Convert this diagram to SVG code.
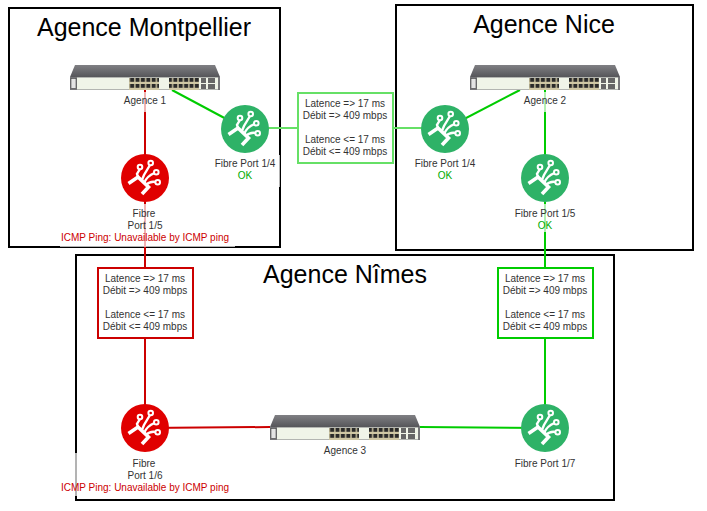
<svg xmlns="http://www.w3.org/2000/svg" width="707" height="511" viewBox="0 0 707 511">
<style>
.area{fill:none;stroke:#000;stroke-width:2}
.title{font-family:"Liberation Sans",Arial,sans-serif;font-size:25px;fill:#000;text-anchor:middle}
.lbl{font-family:"Liberation Sans",Arial,sans-serif;font-size:10px;fill:#333;text-anchor:middle}
.ok{fill:#00aa00}.err{fill:#cc0000}
.bg{fill:#fff;fill-opacity:.7}
.g{stroke:#00cc00;stroke-width:2;fill:none}
.r{stroke:#cc0000;stroke-width:2;fill:none}
.box{fill:#fff;stroke-width:2}
.boxg{stroke:#00cc00}.boxr{stroke:#cc0000}.boxp{stroke:#66e066}
.gp{stroke:#66e066;stroke-width:2;fill:none}
</style>
<defs>
<linearGradient id="top" x1="0" y1="0" x2="0" y2="1"><stop offset="0" stop-color="#808084"/><stop offset="1" stop-color="#56565a"/></linearGradient>
<pattern id="ports" x="0" y="0" width="5.4" height="6" patternUnits="userSpaceOnUse"><rect width="5.4" height="6" fill="#cfc7a4"/><rect x=".7" y="1" width="4" height="3.8" fill="#2a2a2a"/></pattern>
<g id="sw">
<polygon points="0,12 5,0 145,0 150,12" fill="url(#top)"/>
<rect x="0" y="12" width="150" height="13" fill="#77777a"/>
<rect x="7" y="12.500" width="141" height="12" fill="#f0f4e8"/>
<rect x="1" y="13.500" width="5" height="10" fill="#e4e4e4" stroke="#444" stroke-width=".6"/>
<rect x="59" y="13" width="30" height="12" fill="url(#ports)"/>
<rect x="99" y="13" width="30" height="12" fill="url(#ports)"/>
<rect x="131" y="13" width="5" height="5" fill="#666"/><rect x="131" y="19" width="5" height="5" fill="#666"/>
<rect x="138" y="13" width="7" height="5" fill="#666"/><rect x="138" y="19" width="7" height="5" fill="#666"/>
</g>
<g id="fib" fill="none" stroke="#fff" stroke-width="2.400">
<path d="M-16.500,5.500 L-7,-1 L3.500,9 L-3,16" stroke-width="3.600"/>
<path d="M-5,-9 L-8,-4 L-7,-1"/>
<path d="M5,-13 L-1,-3 L-3.500,3"/>
<path d="M9.500,-5 Q2,-2 -1,5"/>
<path d="M10.500,4 Q5,3 1,7"/>
<circle cx="-5" cy="-11" r="2.300" stroke-width="2"/><circle cx="5.700" cy="-15" r="2.300" stroke-width="2"/><circle cx="11.300" cy="-5.700" r="2.300" stroke-width="2"/><circle cx="12.700" cy="4.300" r="2.300" stroke-width="2"/>
</g>
</defs>
<rect width="707" height="511" fill="#fff"/>
<g id="areas">
<rect class="area" x="9" y="8" width="271" height="239"/>
<rect class="area" x="396" y="5" width="297" height="245"/>
<rect class="area" x="76" y="255" width="538" height="245"/>
</g>
<g id="connectors">
<path class="g" d="M172,90 L245,129"/>
<path class="gp" d="M245,128 L298,128"/>
<path class="gp" d="M393,128 L445,128"/>
<path class="g" d="M445,129 L520,90"/>
<path class="g" d="M545,90 L545,268"/>
<path class="g" d="M545,338 L545,428"/>
<path class="r" d="M145,90 L145,268"/>
<path class="r" d="M145,338 L145,428"/>
<path class="r" d="M145,428 L270,427"/>
<path class="g" d="M420,427 L545,428"/>
</g>
<text class="title" x="144" y="36">Agence Montpellier</text>
<text class="title" x="544" y="33">Agence Nice</text>
<text class="title" x="345" y="283">Agence Nîmes</text>
<g id="agence1"><use href="#sw" x="70" y="65"/><rect class="bg" x="122" y="92" width="46" height="20"/><text class="lbl" x="145" y="104">Agence 1</text></g>
<g id="agence2"><use href="#sw" x="470" y="65"/><rect class="bg" x="522" y="92" width="46" height="20"/><text class="lbl" x="545" y="104">Agence 2</text></g>
<g id="agence3"><use href="#sw" x="270" y="415"/><rect class="bg" x="322" y="442" width="46" height="14"/><text class="lbl" x="345" y="454">Agence 3</text></g>
<g id="fibre14a"><circle cx="245" cy="129" r="24" fill="#2eb267"/><use href="#fib" x="245" y="129"/><rect class="bg" x="210" y="155" width="70" height="32"/><text class="lbl" x="245" y="167">Fibre Port 1/4</text><text class="lbl ok" x="245" y="179">OK</text></g>
<g id="fibre15a"><circle cx="145" cy="178" r="24" fill="#e00000"/><use href="#fib" x="145" y="178"/><rect class="bg" x="60" y="204" width="175" height="43"/><text class="lbl" x="144" y="217">Fibre</text><text class="lbl" x="145" y="229">Port 1/5</text><text class="lbl err" x="145" y="241">ICMP Ping: Unavailable by ICMP ping</text></g>
<g id="fibre14b"><circle cx="445" cy="129" r="24" fill="#2eb267"/><use href="#fib" x="445" y="129"/><rect class="bg" x="410" y="155" width="70" height="28"/><text class="lbl" x="445" y="167">Fibre Port 1/4</text><text class="lbl ok" x="445" y="179">OK</text></g>
<g id="fibre15b"><circle cx="545" cy="178" r="24" fill="#2eb267"/><use href="#fib" x="545" y="178"/><rect class="bg" x="510" y="204" width="70" height="28"/><text class="lbl" x="545" y="217">Fibre Port 1/5</text><text class="lbl ok" x="545" y="229">OK</text></g>
<g id="fibre16"><circle cx="145" cy="428" r="24" fill="#e00000"/><use href="#fib" x="145" y="428"/><rect class="bg" x="60" y="453" width="175" height="43"/><text class="lbl" x="144" y="467">Fibre</text><text class="lbl" x="145" y="479">Port 1/6</text><text class="lbl err" x="145" y="491">ICMP Ping: Unavailable by ICMP ping</text></g>
<g id="fibre17"><circle cx="545" cy="428" r="24" fill="#2eb267"/><use href="#fib" x="545" y="428"/><rect class="bg" x="510" y="454" width="70" height="16"/><text class="lbl" x="545" y="467">Fibre Port 1/7</text></g>
<g id="link-center"><rect class="box boxp" x="298" y="93" width="95" height="70"/><text class="lbl" x="345" y="107">Latence =&gt; 17 ms</text><text class="lbl" x="345" y="119">Débit =&gt; 409 mbps</text><text class="lbl" x="345" y="143">Latence &lt;= 17 ms</text><text class="lbl" x="345" y="155">Débit &lt;= 409 mbps</text></g>
<g id="link-left"><rect class="box boxr" x="98" y="268" width="95" height="70"/><text class="lbl" x="145" y="282">Latence =&gt; 17 ms</text><text class="lbl" x="145" y="294">Débit =&gt; 409 mbps</text><text class="lbl" x="145" y="318">Latence &lt;= 17 ms</text><text class="lbl" x="145" y="330">Débit &lt;= 409 mbps</text></g>
<g id="link-right"><rect class="box boxg" x="498" y="268" width="95" height="70"/><text class="lbl" x="545" y="282">Latence =&gt; 17 ms</text><text class="lbl" x="545" y="294">Débit =&gt; 409 mbps</text><text class="lbl" x="545" y="318">Latence &lt;= 17 ms</text><text class="lbl" x="545" y="330">Débit &lt;= 409 mbps</text></g>
</svg>
